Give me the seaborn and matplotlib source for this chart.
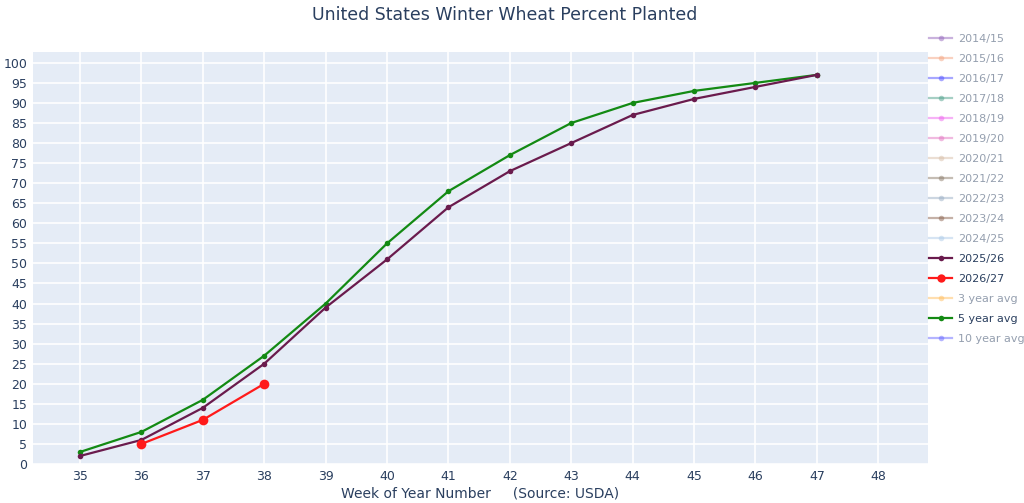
import seaborn as sns
import matplotlib.pyplot as plt
from matplotlib.lines import Line2D
import pandas as pd

weeks = list(range(35, 48))
y2025 = [2, 6, 14, 25, 39, 51, 64, 73, 80, 87, 91, 94, 97]
avg5 = [3, 8, 16, 27, 40, 55, 68, 77, 85, 90, 93, 95, 97]
weeks2026 = [36, 37, 38]
y2026 = [5, 11, 20]

legend_names = ["2014/15", "2015/16", "2016/17", "2017/18", "2018/19", "2019/20",
                "2020/21", "2021/22", "2022/23", "2023/24", "2024/25", "2025/26",
                "2026/27", "3 year avg", "5 year avg", "10 year avg"]
legend_colors = ["#9467bd", "#f4a582", "#5050ff", "#4fa08b", "#ee66ee", "#e377c2",
                 "#d8bfa8", "#8c7d6b", "#9aaec4", "#8c6450", "#aecbe8", "#6a1b4d",
                 "#ff1a1a", "#ffbf60", "#138a13", "#6a6aff"]
shown = ["2025/26", "2026/27", "5 year avg"]

df = pd.concat([
    pd.DataFrame({"week": weeks, "pct": y2025, "series": "2025/26"}),
    pd.DataFrame({"week": weeks2026, "pct": y2026, "series": "2026/27"}),
    pd.DataFrame({"week": weeks, "pct": avg5, "series": "5 year avg"}),
])
pal = dict(zip(legend_names, legend_colors))

fig = plt.figure(figsize=(10.24, 5.03), dpi=100)
ax = fig.add_axes([33/1024, 39/503, 895/1024, 412/503])
ax.set_facecolor("#e5ecf6")

for name, size in [("5 year avg", 4), ("2025/26", 4), ("2026/27", 7)]:
    sub = df[df.series == name]
    sns.lineplot(data=sub, x="week", y="pct", color=pal[name], marker="o",
                 markersize=size, markeredgewidth=0, linewidth=1.6, ax=ax,
                 legend=False, zorder=3)

ax.set_xlim(34.234, 48.81)
ax.set_ylim(0, 102.7)
ax.set_xticks(range(35, 49))
ax.set_yticks(range(0, 101, 5))
ax.grid(color="white", linewidth=1.2)
ax.set_axisbelow(True)
for s in ax.spines.values():
    s.set_visible(False)
ax.tick_params(length=0, labelsize=9, labelcolor="#2a3f5f", pad=4)
ax.set_xlabel("Week of Year Number     (Source: USDA)", fontsize=10, color="#2a3f5f", labelpad=3)
ax.set_ylabel("")

fig.text(0.493, 0.97, "United States Winter Wheat Percent Planted", ha="center", va="center",
         fontsize=12.5, color="#2a3f5f")

handles = []
for name, col in zip(legend_names, legend_colors):
    a = 1.0 if name in shown else 0.5
    ms = 6 if name == "2026/27" else 4
    handles.append(Line2D([], [], color=col, marker="o", markersize=ms, markeredgewidth=0,
                          linewidth=1.6, alpha=a))
leg = fig.legend(handles, legend_names, loc="upper left", bbox_to_anchor=(929/1024, 1 - 34/503),
                 frameon=False, fontsize=8.0, handlelength=2.1, labelspacing=0.9,
                 handletextpad=0.5, borderaxespad=0, borderpad=0)
for t, name in zip(leg.get_texts(), legend_names):
    t.set_color("#2a3f5f")
    t.set_alpha(1.0 if name in shown else 0.5)

fig.savefig("out.png", dpi=100)
